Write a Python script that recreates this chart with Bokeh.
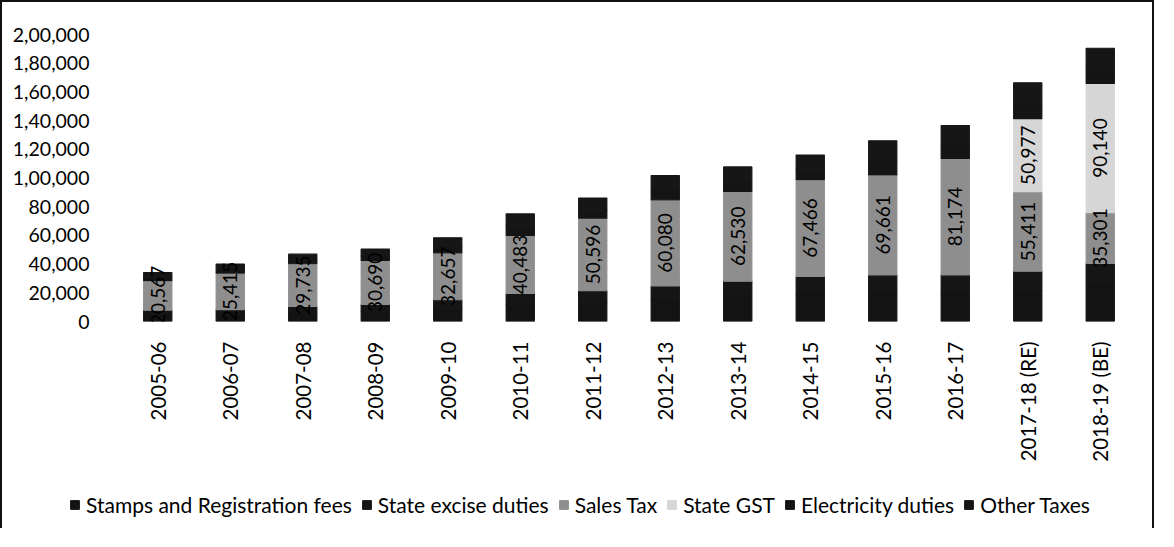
import math
from bokeh.plotting import figure
from bokeh.layouts import column
from bokeh.models import (ColumnDataSource, FactorRange, Range1d, Legend, LegendItem,
                          FixedTicker)
from bokeh.embed import file_html
from bokeh.resources import INLINE
from bokeh.core.properties import value

# ---------------- data (Rs crore) ----------------
years = ["2005-06", "2006-07", "2007-08", "2008-09", "2009-10", "2010-11", "2011-12",
         "2012-13", "2013-14", "2014-15", "2015-16", "2016-17", "2017-18 (RE)", "2018-19 (BE)"]
stamps = [4800, 5100, 6400, 7200, 9300, 12000, 13100, 15100, 17200, 19200, 19900, 19900, 21500, 25800]
excise = [3100, 3200, 4100, 4700, 5900, 7500, 8300, 9600, 10900, 12200, 12600, 12600, 13500, 14700]
sales_tax = [20567, 25415, 29735, 30690, 32657, 40483, 50596, 60080, 62530, 67466, 69661, 81174, 55411, 35301]
state_gst = [0, 0, 0, 0, 0, 0, 0, 0, 0, 0, 0, 0, 50977, 90140]
electricity = [2200, 2500, 2700, 3100, 4100, 6000, 5600, 6800, 6800, 6800, 9500, 9200, 10000, 9800]
other_taxes = [3400, 3800, 4000, 4800, 6400, 9000, 8500, 10200, 10300, 10300, 14300, 13700, 15000, 14700]

series_names = ["Stamps and Registration fees", "State excise duties", "Sales Tax",
                "State GST", "Electricity duties", "Other Taxes"]
y_ticks = [0, 20000, 40000, 60000, 80000, 100000, 120000, 140000, 160000, 180000, 200000]
y_tick_labels = ["0", "20,000", "40,000", "60,000", "80,000", "1,00,000", "1,20,000",
                 "1,40,000", "1,60,000", "1,80,000", "2,00,000"]

# ---------------- style ----------------
keys = ["stamps", "excise", "sales", "gst", "elec", "other"]
colors = ["#131313", "#151515", "#8e8e8e", "#d6d6d6", "#141414", "#161616"]
FONT = "Lato"
BORDER = "2px solid #111"

src = ColumnDataSource(dict(year=years, stamps=stamps, excise=excise, sales=sales_tax,
                            gst=state_gst, elec=electricity, other=other_taxes))

p = figure(x_range=FactorRange(*years, range_padding=0), y_range=Range1d(0, 200000),
           width=1154, height=462, output_backend="svg", toolbar_location=None,
           min_border_left=119, min_border_right=20, min_border_top=32, min_border_bottom=133)
p.styles = {"border-left": BORDER, "border-top": BORDER, "border-right": BORDER}

renderers = p.vbar_stack(keys, x="year", width=0.39, source=src, color=colors,
                         line_color=colors, line_width=1.1)

# data labels (sales tax and state GST)
lx, ly, lt = [], [], []
for i, yr in enumerate(years):
    base = stamps[i] + excise[i]
    lx.append(yr); ly.append(base + sales_tax[i] / 2); lt.append(f"{sales_tax[i]:,}")
    if state_gst[i] > 0:
        lx.append(yr); ly.append(base + sales_tax[i] + state_gst[i] / 2); lt.append(f"{state_gst[i]:,}")
lab_src = ColumnDataSource(dict(x=lx, y=ly, text=lt))
p.text(x="x", y="y", text="text", source=lab_src, angle=math.pi / 2,
       text_align="center", text_baseline="middle", text_font=value(FONT),
       text_font_size="19px", text_color="#000000")

# axes
p.grid.grid_line_color = None
p.outline_line_color = None
p.yaxis.ticker = FixedTicker(ticks=y_ticks)
p.yaxis.major_label_overrides = {t: l for t, l in zip(y_ticks, y_tick_labels)}
for ax in (p.xaxis[0], p.yaxis[0]):
    ax.axis_line_color = None
    ax.major_tick_line_color = None
    ax.minor_tick_line_color = None
    ax.major_label_text_font = FONT
    ax.major_label_text_color = "#000000"
p.yaxis.major_label_text_font_size = "19.5px"
p.yaxis.major_label_standoff = 26
p.xaxis.major_label_text_font_size = "20.5px"
p.xaxis.major_label_orientation = math.pi / 2
p.xaxis.major_label_standoff = 14

# ---------------- legend strip below the chart ----------------
lf = figure(width=1154, height=66, output_backend="svg", toolbar_location=None,
            x_range=Range1d(0, 1), y_range=Range1d(0, 1),
            x_axis_location=None, y_axis_location=None,
            min_border_left=0, min_border_right=0, min_border_top=0, min_border_bottom=0)
lf.frame_align = False
lf.grid.grid_line_color = None
lf.outline_line_color = None
lf.styles = {"border-left": BORDER, "border-right": BORDER}
dummy = []
for c in colors:
    dummy.append(lf.rect(x=[-10], y=[-10], width=0.1, height=0.1, fill_color=c, line_color=c))

legend = Legend(items=[LegendItem(label=n, renderers=[r]) for n, r in zip(series_names, dummy)],
                orientation="horizontal", location=(67, 11),
                label_text_font=FONT, label_text_font_size="21px", label_text_color="#000000",
                glyph_width=11, glyph_height=11, label_standoff=6, spacing=9,
                padding=0, margin=0, border_line_color=None, background_fill_alpha=0)
lf.add_layout(legend, "center")

layout = column(p, lf, spacing=0)
open("out.html", "w").write(file_html(layout, INLINE))
